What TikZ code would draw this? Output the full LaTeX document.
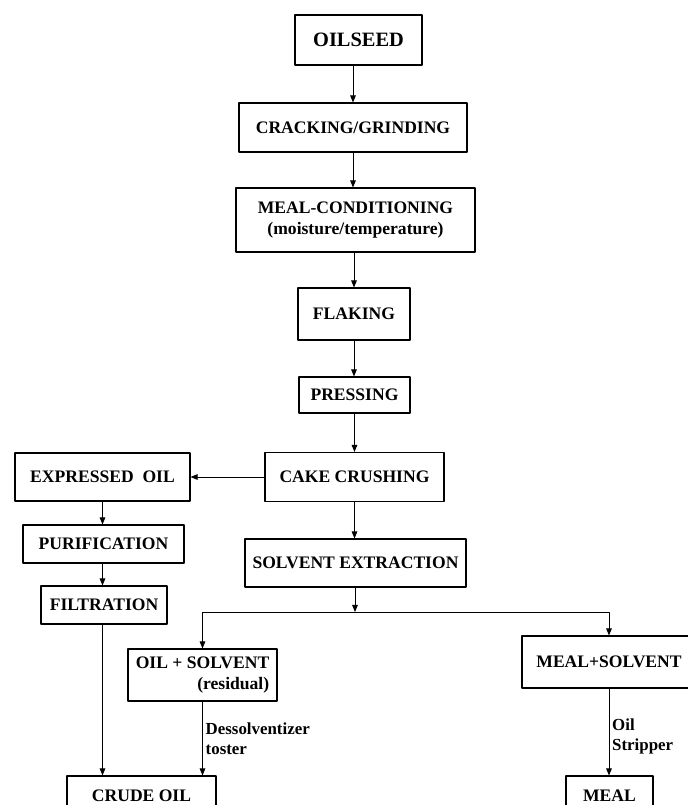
\documentclass[tikz,border=0pt]{standalone}
\usepackage{fontspec}
\setmainfont{Liberation Serif}
\usetikzlibrary{arrows.meta}
\begin{document}
\begin{tikzpicture}[x=0.025cm, y=-0.025cm, line cap=round, line join=round, >={Triangle[length=5pt,width=4pt]}, font=\bfseries\fontsize{12.5}{14.5}\selectfont]
			\tikzset{box/.style={draw, line width=0.8pt, align=center, inner sep=2pt},
				step label/.style={font=\bfseries\fontsize{12}{14}\selectfont, align=left, right, inner sep=2pt},
				flow/.style={->, line width=0.6pt}}
			\useasboundingbox (0,0) rectangle (688,805);
			\clip (0,0) rectangle (688,805);
			% main line
			\node[box, minimum width=3.175cm, minimum height=1.25cm, font=\bfseries\fontsize{14.5}{16.5}\selectfont] (oilseed) at (358.5,40) {OILSEED};
			\node[box, minimum width=5.7cm, minimum height=1.225cm] (crack) at (353,127.5) {CRACKING/GRINDING};
			\node[box, minimum width=5.975cm, minimum height=1.6cm] (cond) at (355.5,220) {MEAL-CONDITIONING\\(moisture/temperature)};
			\node[box, minimum width=2.8cm, minimum height=1.3cm] (flak) at (354,314) {FLAKING};
			\node[box, minimum width=2.775cm, minimum height=0.9cm] (press) at (354.5,395) {PRESSING};
			\node[box, minimum width=4.475cm, minimum height=1.225cm] (cake) at (354.5,477) {CAKE CRUSHING};
			\node[box, minimum width=5.525cm, minimum height=1.2cm] (solv) at (355.5,563) {SOLVENT EXTRACTION};
			% left branch
			\node[box, minimum width=4.375cm, minimum height=1.2cm] (expr) at (102.5,477) {EXPRESSED\ \ OIL};
			\node[box, minimum width=4.025cm, minimum height=0.95cm] (purif) at (103.5,544) {PURIFICATION};
			\node[box, minimum width=3.15cm, minimum height=0.95cm] (filt) at (104,605) {FILTRATION};
			% after extraction
			\coordinate (split) at (355,612);
			\node[box, minimum width=3.725cm, minimum height=1.3cm, align=right] (oilsolv) at (202.5,675) {OIL + SOLVENT\\(residual)};
			\node[box, minimum width=4.35cm, minimum height=1.3cm] (mealsolv) at (609,662) {MEAL+SOLVENT};
			\node[box, minimum width=3.725cm, minimum height=1.0cm] (crude) at (141.5,796) {CRUDE OIL};
			\node[box, minimum width=2.175cm, minimum height=1.0cm] (meal) at (609.5,796) {MEAL};

			\draw[flow] (oilseed.south -| crack.north) -- (crack.north);
			\draw[flow] (crack.south) -- (cond.north -| crack.south);
			\draw[flow] (cond.south -| flak.north) -- (flak.north);
			\draw[flow] (flak.south) -- (press.north -| flak.south);
			\draw[flow] (press.south) -- (cake.north -| press.south);
			\draw[flow] (cake.west) -- (cake.west -| expr.east);
			\draw[flow] (cake.south) -- (solv.north -| cake.south);
			\draw[flow] (expr.south) -- (purif.north -| expr.south);
			\draw[flow] (purif.south -| expr.south) -- (filt.north -| expr.south);
			\draw[flow] (filt.south -| expr.south) -- (crude.north -| expr.south);
			\draw[flow] (solv.south -| split) -- (split);
			\draw[flow] (split) -| (oilsolv.north);
			\draw[flow] (split) -| (mealsolv.north);
			\draw[flow] (oilsolv.south) -- (crude.north -| oilsolv.south) node[step label, midway]{Dessolventizer\\toster};
			\draw[flow] (mealsolv.south) -- (meal.north -| mealsolv.south) node[step label, pos=0.55]{Oil\\Stripper};
	\end{tikzpicture}
\end{document}
